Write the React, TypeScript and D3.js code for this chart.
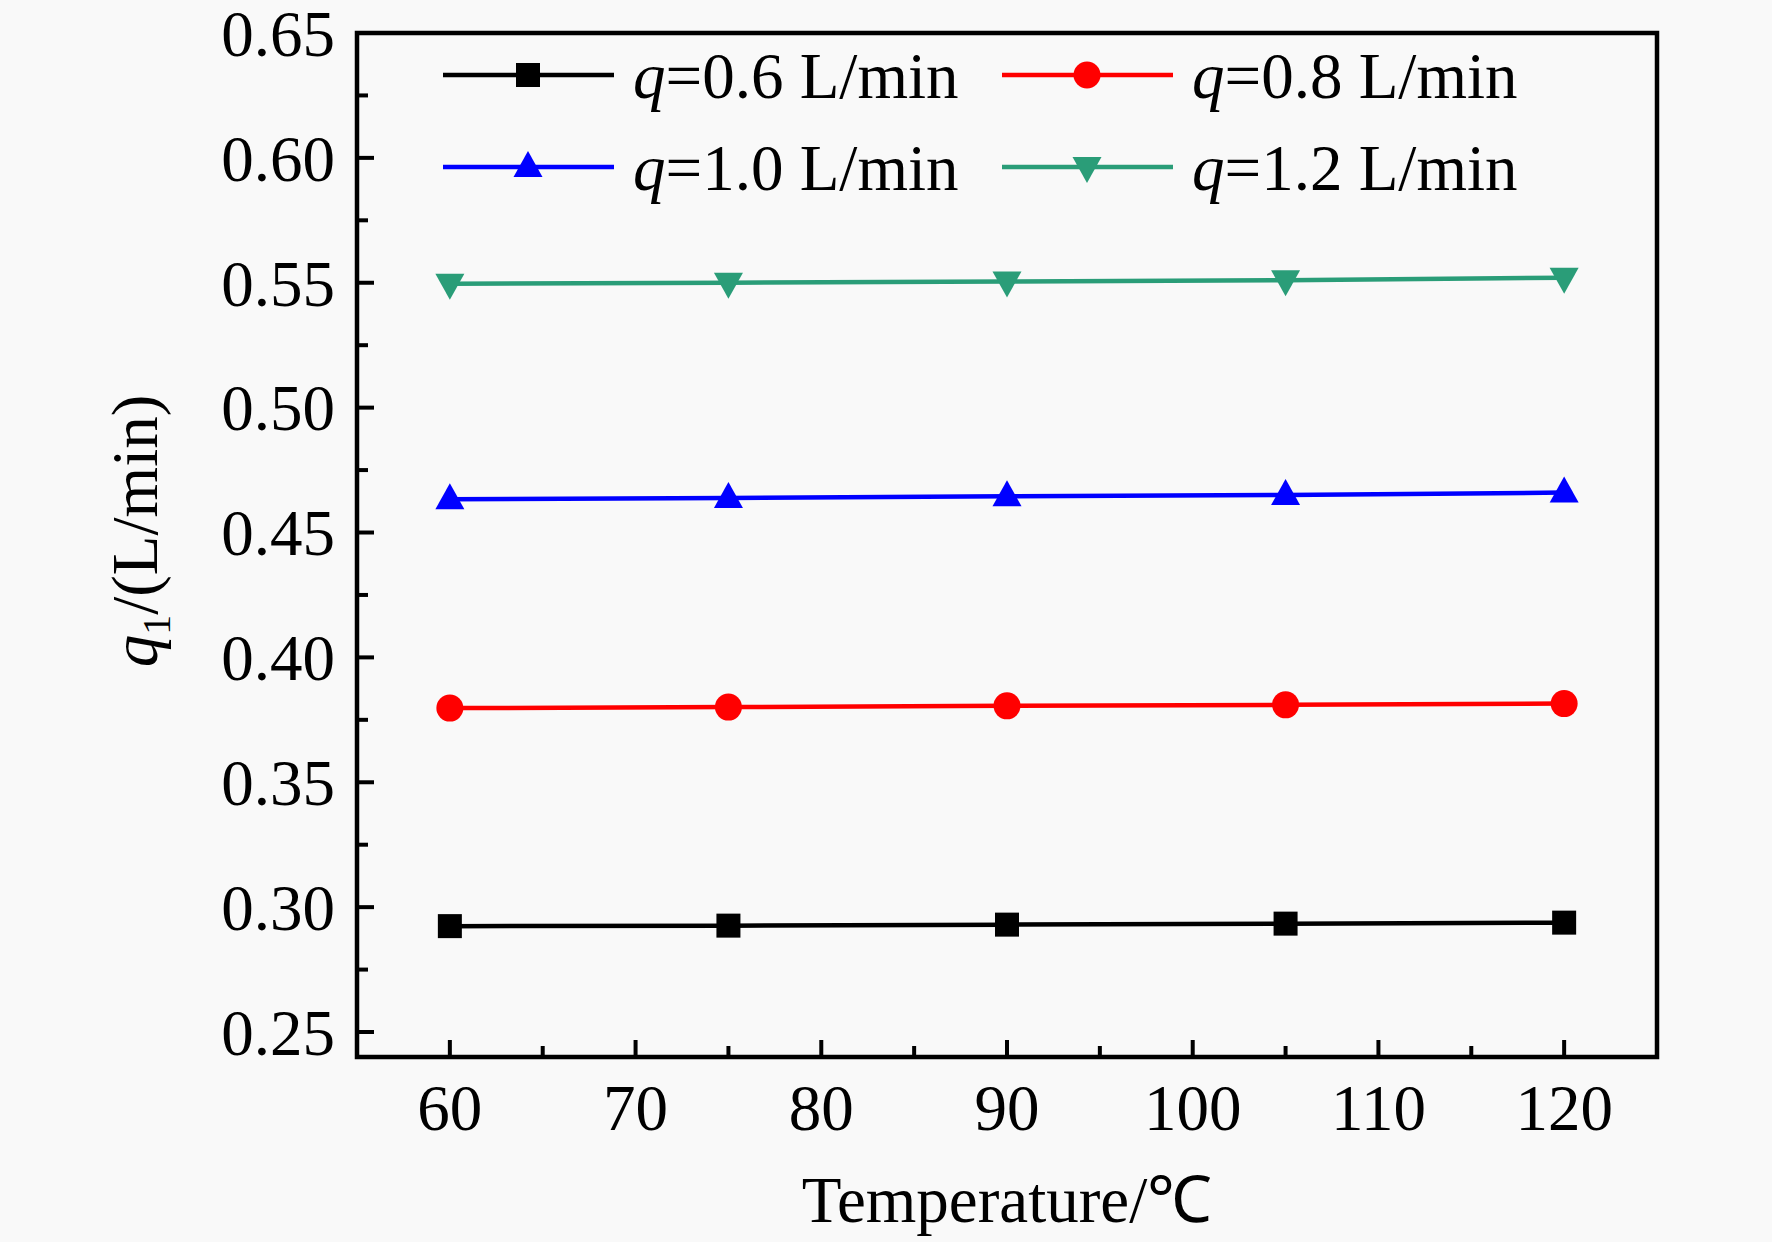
import React, { useEffect, useRef } from 'react';
import * as d3 from 'd3';

// x values (temperature, ℃)
const temperatures = [60, 75, 90, 105, 120];

// q1 values for each supply flow rate
const q06 = [0.2924, 0.2926, 0.2930, 0.2934, 0.2938];
const q08 = [0.3797, 0.3801, 0.3806, 0.3810, 0.3815];
const q10 = [0.4633, 0.4638, 0.4645, 0.4650, 0.4660];
const q12 = [0.5496, 0.5500, 0.5505, 0.5510, 0.5520];

const seriesLabels = ['=0.6 L/min', '=0.8 L/min', '=1.0 L/min', '=1.2 L/min'];

const xTicks = [60, 70, 80, 90, 100, 110, 120];
const yTicks = [0.25, 0.30, 0.35, 0.40, 0.45, 0.50, 0.55, 0.60, 0.65];

const WIDTH = 1772;
const HEIGHT = 1242;
const FONT = '"Liberation Serif", "Times New Roman", serif';

const series = [
  { values: q06, label: seriesLabels[0], color: '#000000', symbol: 'square' },
  { values: q08, label: seriesLabels[1], color: '#ff0000', symbol: 'circle' },
  { values: q10, label: seriesLabels[2], color: '#0000ff', symbol: 'up' },
  { values: q12, label: seriesLabels[3], color: '#2a9d78', symbol: 'down' },
];

const App: React.FC = () => {
  const svgRef = useRef<SVGSVGElement>(null);

  useEffect(() => {
    if (!svgRef.current) return;
    const svg = d3.select(svgRef.current);
    svg.selectAll('*').remove();

    const margin = { top: 33, right: 115, bottom: 185, left: 357 };
    const innerWidth = WIDTH - margin.left - margin.right;
    const innerHeight = HEIGHT - margin.top - margin.bottom;

    const x = d3.scaleLinear().domain([55, 125]).range([0, innerWidth]);
    const y = d3.scaleLinear().domain([0.24, 0.65]).range([innerHeight, 0]);

    svg.append('rect')
      .attr('width', WIDTH)
      .attr('height', HEIGHT)
      .attr('fill', '#f9f9f9');

    const g = svg.append('g')
      .attr('transform', `translate(${margin.left},${margin.top})`);

    // minor + major ticks (inward)
    const xMinor = d3.range(65, 125, 10);
    const yMinor = d3.range(0.275, 0.65, 0.05);

    g.selectAll('.xmaj')
      .data(xTicks)
      .join('line')
      .attr('x1', d => x(d)).attr('x2', d => x(d))
      .attr('y1', innerHeight).attr('y2', innerHeight - 17)
      .attr('stroke', '#000').attr('stroke-width', 4);
    g.selectAll('.xmin')
      .data(xMinor)
      .join('line')
      .attr('x1', d => x(d)).attr('x2', d => x(d))
      .attr('y1', innerHeight).attr('y2', innerHeight - 11)
      .attr('stroke', '#000').attr('stroke-width', 4);
    g.selectAll('.ymaj')
      .data(yTicks)
      .join('line')
      .attr('x1', 0).attr('x2', 17)
      .attr('y1', d => y(d)).attr('y2', d => y(d))
      .attr('stroke', '#000').attr('stroke-width', 4);
    g.selectAll('.ymin')
      .data(yMinor)
      .join('line')
      .attr('x1', 0).attr('x2', 11)
      .attr('y1', d => y(d)).attr('y2', d => y(d))
      .attr('stroke', '#000').attr('stroke-width', 4);

    // frame
    g.append('rect')
      .attr('width', innerWidth)
      .attr('height', innerHeight)
      .attr('fill', 'none')
      .attr('stroke', '#000')
      .attr('stroke-width', 4.5);

    // tick labels
    g.selectAll('.xlab')
      .data(xTicks)
      .join('text')
      .attr('x', d => x(d))
      .attr('y', innerHeight + 73)
      .attr('text-anchor', 'middle')
      .style('font-family', FONT)
      .style('font-size', '65px')
      .text(d => d);

    g.selectAll('.ylab')
      .data(yTicks)
      .join('text')
      .attr('x', -22)
      .attr('y', d => y(d))
      .attr('dy', '0.35em')
      .attr('text-anchor', 'end')
      .style('font-family', FONT)
      .style('font-size', '65px')
      .text(d => d.toFixed(2));

    // axis titles
    svg.append('text')
      .attr('x', margin.left + innerWidth / 2)
      .attr('y', 1222)
      .attr('text-anchor', 'middle')
      .style('font-family', FONT)
      .style('font-size', '65px')
      .text('Temperature/℃');

    const yTitle = svg.append('text')
      .attr('transform', `translate(157,531) rotate(-90)`)
      .attr('text-anchor', 'middle')
      .style('font-family', FONT)
      .style('font-size', '65px');
    yTitle.append('tspan').style('font-style', 'italic').text('q');
    yTitle.append('tspan').attr('dy', 13).style('font-size', '40px').text('1');
    yTitle.append('tspan').attr('dy', -13).text('/(L/min)');

    const drawMarker = (sel: d3.Selection<any, any, any, any>, symbol: string, color: string, cx: number, cy: number) => {
      if (symbol === 'square') {
        sel.append('rect')
          .attr('x', cx - 12).attr('y', cy - 12)
          .attr('width', 24).attr('height', 24)
          .attr('fill', color);
      } else if (symbol === 'circle') {
        sel.append('circle')
          .attr('cx', cx).attr('cy', cy).attr('r', 13.5)
          .attr('fill', color);
      } else {
        const s = symbol === 'up' ? -1 : 1;
        const pts = [
          [cx, cy + s * 16],
          [cx - 14.5, cy - s * 10],
          [cx + 14.5, cy - s * 10],
        ];
        sel.append('path')
          .attr('d', `M${pts.map(p => p.join(',')).join('L')}Z`)
          .attr('fill', color);
      }
    };

    const line = d3.line<number>()
      .x((_, i) => x(temperatures[i]))
      .y(d => y(d));

    series.forEach(s => {
      g.append('path')
        .datum(s.values)
        .attr('d', line)
        .attr('fill', 'none')
        .attr('stroke', s.color)
        .attr('stroke-width', 4.5);
      const mg = g.append('g');
      s.values.forEach((v, i) => drawMarker(mg, s.symbol, s.color, x(temperatures[i]), y(v)));
    });

    // legend
    const legendCols = [443, 1002];
    const legendRows = [75, 167];
    series.forEach((s, i) => {
      const lx = legendCols[i % 2];
      const ly = legendRows[Math.floor(i / 2)];
      const lg = svg.append('g');
      lg.append('line')
        .attr('x1', lx).attr('x2', lx + 171)
        .attr('y1', ly).attr('y2', ly)
        .attr('stroke', s.color)
        .attr('stroke-width', 4.5);
      drawMarker(lg, s.symbol, s.color, lx + 85, ly);
      const t = lg.append('text')
        .attr('x', lx + 190)
        .attr('y', ly + 23)
        .style('font-family', FONT)
        .style('font-size', '65px');
      t.append('tspan').style('font-style', 'italic').text('q');
      t.append('tspan').text(s.label);
    });
  }, []);

  return (
    <svg
      ref={svgRef}
      width={WIDTH}
      height={HEIGHT}
      style={{ display: 'block', position: 'absolute', left: 0, top: 0 }}
    />
  );
};

export default App;
